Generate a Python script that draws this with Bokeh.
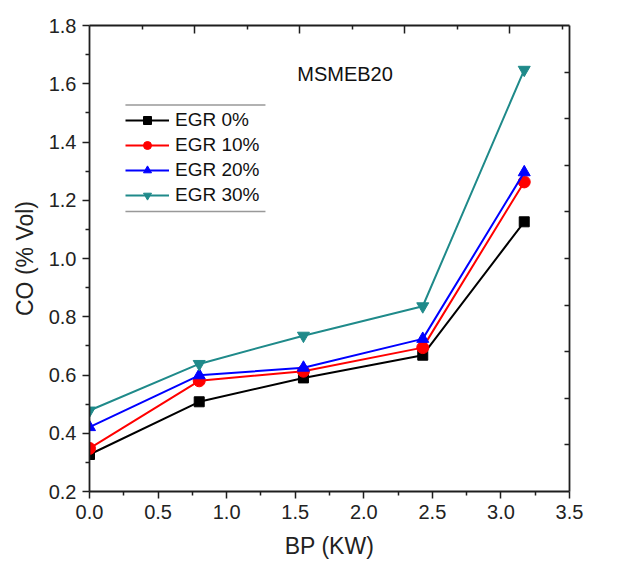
from bokeh.plotting import figure
from bokeh.models import (LinearAxis, FixedTicker, Label, Legend, LegendItem, Range1d,
                          NumeralTickFormatter, CustomJSTickFormatter)
from bokeh.embed import file_html
from bokeh.resources import INLINE

# ---- data ----
bp = [0.0, 0.80, 1.56, 2.43, 3.17]
egr0 = [0.327, 0.508, 0.590, 0.668, 1.126]
egr10 = [0.348, 0.580, 0.613, 0.694, 1.263]
egr20 = [0.421, 0.599, 0.625, 0.724, 1.296]
egr30 = [0.478, 0.638, 0.735, 0.836, 1.648]
series_names = ["EGR 0%", "EGR 10%", "EGR 20%", "EGR 30%"]
x_ticks = [0.0, 0.5, 1.0, 1.5, 2.0, 2.5, 3.0, 3.5]
y_ticks = [0.2, 0.4, 0.6, 0.8, 1.0, 1.2, 1.4, 1.6, 1.8]
title_text = "MSMEB20"
x_label = "BP (KW)"
y_label = "CO (% Vol)"

FONT = "Liberation Sans"
AX = "#1e1e1e"

p = figure(width=619, height=561, output_backend="svg", toolbar_location=None,
           x_range=Range1d(0, 3.5), y_range=Range1d(0.2, 1.8),
           x_axis_location=None, y_axis_location=None,
           min_border_left=89, min_border_right=50, min_border_top=25, min_border_bottom=68)
p.grid.visible = False
p.outline_line_color = None
p.background_fill_color = "white"

def style_axis(ax):
    ax.axis_line_color = AX
    ax.axis_line_width = 1.8
    ax.major_tick_line_color = AX
    ax.minor_tick_line_color = AX
    ax.major_tick_line_width = 1.5
    ax.minor_tick_line_width = 1.5
    ax.major_label_text_font = FONT
    ax.major_label_text_font_size = "20px"
    ax.major_label_text_color = "#222222"
    ax.axis_label_text_font = FONT
    ax.axis_label_text_font_size = "23px"
    ax.axis_label_text_font_style = "normal"
    ax.axis_label_text_color = "#222222"

xminor = [0.25 + 0.5 * i for i in range(7)]
yminor = [0.3 + 0.2 * i for i in range(8)]

xb = LinearAxis(axis_label=x_label, ticker=FixedTicker(ticks=x_ticks, minor_ticks=xminor),
                formatter=NumeralTickFormatter(format="0.0"))
style_axis(xb)
xb.major_tick_out = 7; xb.major_tick_in = 0
xb.minor_tick_out = 4; xb.minor_tick_in = 0
xb.major_label_standoff = 6
xb.axis_label_standoff = 11
p.add_layout(xb, "below")

yl = LinearAxis(axis_label=y_label, ticker=FixedTicker(ticks=y_ticks, minor_ticks=yminor),
                formatter=NumeralTickFormatter(format="0.0"))
style_axis(yl)
yl.major_tick_out = 7; yl.major_tick_in = 0
yl.minor_tick_out = 4; yl.minor_tick_in = 0
yl.major_label_standoff = 6
yl.axis_label_standoff = 8
p.add_layout(yl, "left")

blank = CustomJSTickFormatter(code="return '';")

top_step = 0.383
top_major = [top_step * k for k in (2, 4, 6, 8)]
top_minor = [top_step * k for k in (1, 3, 5, 7, 9)]
xt = LinearAxis(ticker=FixedTicker(ticks=top_major, minor_ticks=top_minor), formatter=blank)
style_axis(xt)
xt.major_tick_in = 8; xt.major_tick_out = 0
xt.minor_tick_in = 4; xt.minor_tick_out = 0
xt.major_label_standoff = 0
p.add_layout(xt, "above")

right_ticks = [0.2 + 0.16 * k for k in range(1, 10)]
yr = LinearAxis(ticker=FixedTicker(ticks=right_ticks, minor_ticks=[]), formatter=blank)
style_axis(yr)
yr.major_tick_in = 5; yr.major_tick_out = 0
yr.major_label_standoff = 0
p.add_layout(yr, "right")

colors = ["#000000", "#ff0000", "#0000ff", "#1f8a8a"]
data = [egr0, egr10, egr20, egr30]
markers = ["square", "circle", "triangle", "inverted_triangle"]
sizes = [10, 12, 12, 12]

items = []
for name, ys, c, m, s in zip(series_names, data, colors, markers, sizes):
    ln = p.line(bp, ys, line_color=c, line_width=2)
    sc = p.scatter(bp, ys, marker=m, size=s, fill_color=c, line_color=c)
    items.append(LegendItem(label=name, renderers=[ln, sc]))

legend = Legend(items=items, location=(36, 284), orientation="vertical",
                glyph_width=44, glyph_height=20, label_height=25, spacing=0,
                padding=2, margin=0, label_standoff=6,
                label_text_font=FONT, label_text_font_size="19px",
                label_text_color="#111111",
                border_line_color=None, background_fill_alpha=0)
p.add_layout(legend, "center")

# legend top/bottom rules
p.segment(x0=[0.262, 0.262], y0=[1.527, 1.161], x1=[1.283, 1.283], y1=[1.527, 1.161],
          line_color="#999999", line_width=1.5)

p.add_layout(Label(x=1.515, y=1.632, text=title_text, text_font=FONT,
                   text_font_size="20px", text_baseline="middle", text_color="#111111"))

open("out.html", "w").write(file_html(p, INLINE))
